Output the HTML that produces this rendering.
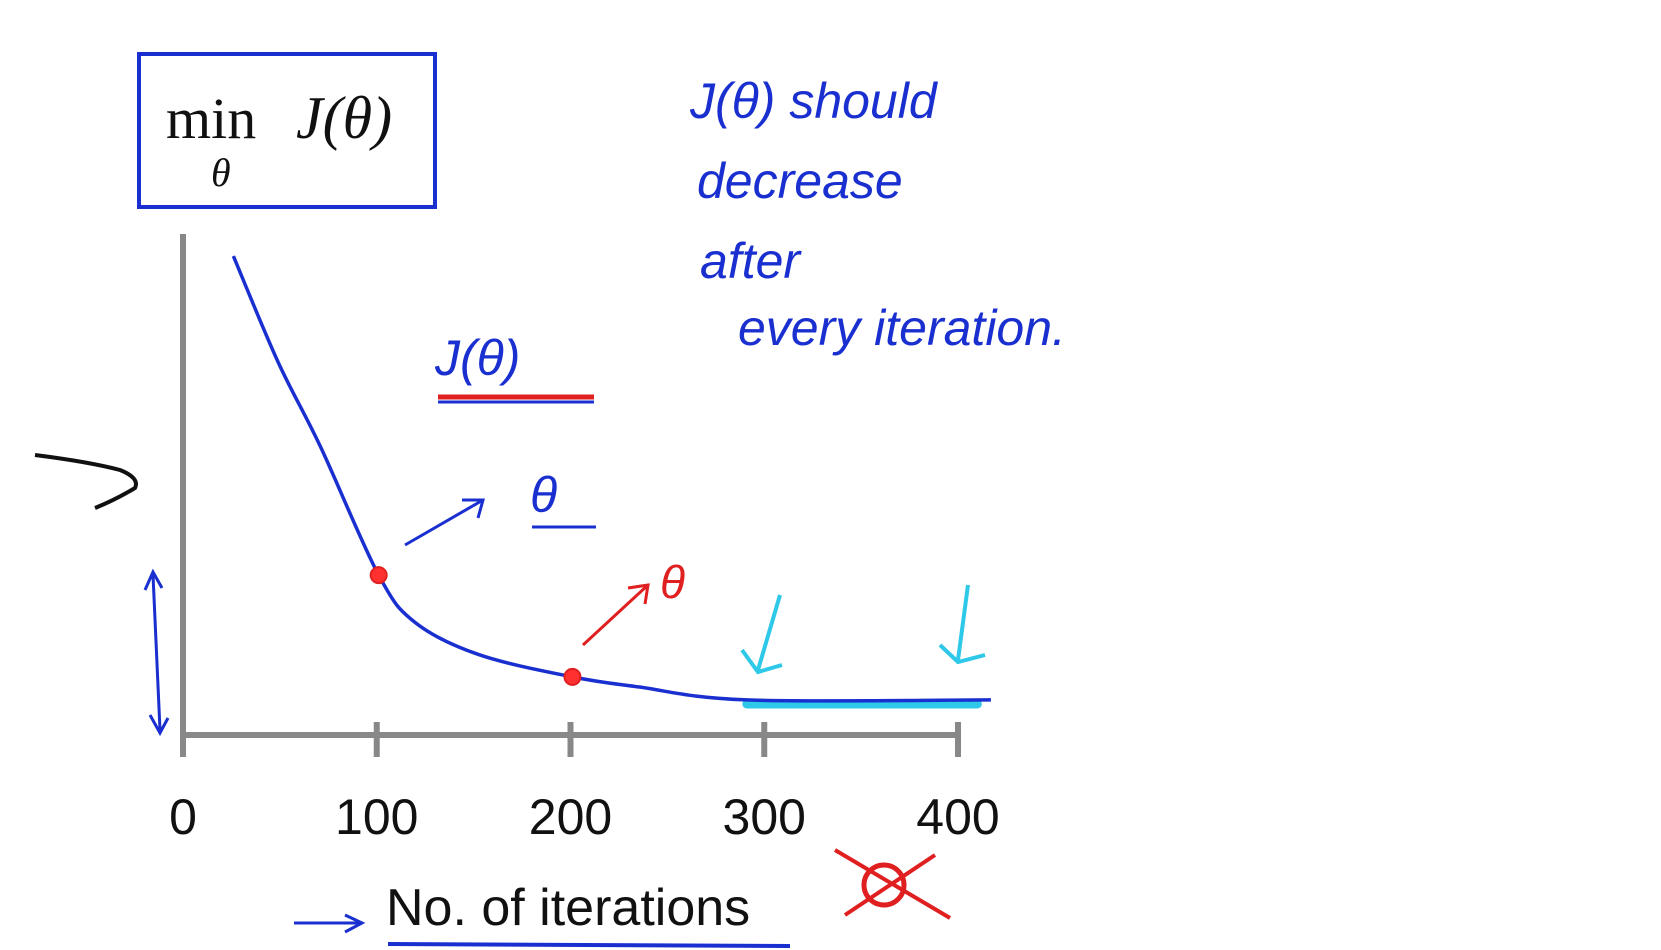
<!DOCTYPE html>
<html><head><meta charset="utf-8"><style>
html,body{margin:0;padding:0;background:#fff;}
svg{display:block;}
.hw{font-family:"Liberation Sans Narrow","Liberation Sans",sans-serif;font-style:italic;fill:#1a2fd0;font-size:50px;font-weight:normal;}
</style></head><body>
<svg id="chart" width="1661" height="950" viewBox="0 0 1661 950">
<g>
<rect x="139" y="54" width="296" height="153" fill="none" stroke="#1a2fd0" stroke-width="4"/>
<text x="166" y="138" font-family="Liberation Serif,serif" font-size="58" fill="#111">min</text>
<text x="296" y="138" font-family="Liberation Serif,serif" font-style="italic" font-size="60" fill="#111">J(θ)</text>
<text x="211" y="186" font-family="Liberation Serif,serif" font-style="italic" font-size="40" fill="#111">θ</text>
</g>
<g>
<text class="hw" x="690" y="118">J(θ) should</text>
<text class="hw" x="697" y="198">decrease</text>
<text class="hw" x="700" y="278">after</text>
<text class="hw" x="738" y="345">every  iteration.</text>
</g>
<g>
<text class="hw" x="435" y="375">J(θ)</text>
<line x1="438" y1="397" x2="594" y2="397" stroke="#e02020" stroke-width="5"/>
<line x1="438" y1="402" x2="594" y2="402" stroke="#1a2fd0" stroke-width="3"/>
<text class="hw" x="530" y="512">θ</text>
<line x1="532" y1="527" x2="596" y2="527" stroke="#1a2fd0" stroke-width="3"/>
<path d="M405,545 L483,500 M462,500 L483,500 L478,518" fill="none" stroke="#1a2fd0" stroke-width="3"/>
<text x="660" y="598" font-family="Liberation Sans,sans-serif" font-style="italic" font-size="46" fill="#e02020">θ</text>
<path d="M583,645 L648,585 M628,588 L648,585 L645,604" fill="none" stroke="#e02020" stroke-width="3"/>
<path d="M35,455 Q90,462 120,470 Q140,478 135,488 Q115,500 95,508" fill="none" stroke="#111" stroke-width="4"/>
<path d="M153,575 L160,730 M145,590 L153,572 L162,588 M150,715 L160,733 L168,718" fill="none" stroke="#1a2fd0" stroke-width="3"/>
<path d="M780,595 L758,670 M742,650 L758,672 L782,665" fill="none" stroke="#2ec8e8" stroke-width="4"/>
<path d="M968,585 L958,660 M940,645 L958,662 L985,655" fill="none" stroke="#2ec8e8" stroke-width="4"/>
<path d="M294,923 L360,923 M345,915 L362,923 L345,932" fill="none" stroke="#1a2fd0" stroke-width="3"/>
<line x1="388" y1="944" x2="790" y2="946" stroke="#1a2fd0" stroke-width="4"/>
<circle cx="884" cy="885" r="20" fill="none" stroke="#e02020" stroke-width="5"/>
<path d="M835,850 L950,918 M935,855 L845,915" fill="none" stroke="#e02020" stroke-width="4"/>
</g>
<g id="plot"></g>
<text x="386" y="925" font-family="Liberation Sans Narrow,Liberation Sans,sans-serif" font-size="52" fill="#111">No. of iterations</text>
</svg>
<script>
const tickValues=[0,100,200,300,400];
const tickLabels=["0","100","200","300","400"];
const iterations=[26,49,71,101,120,153,201,235,291,417];
const costValues=[95.6,74.5,57.5,31.9,22.4,16,11.6,9.6,7,7];
const markedIterations=[101,201];
const markedCosts=[31.9,11.6];
const flatRange=[291,410];
const flatCost=[6.2,6.2];

const X=v=>183+v*775/400;
const Y=v=>735-v*5.01;
const NS="http://www.w3.org/2000/svg";
const plot=document.getElementById('plot');
function mk(tag,attrs){const e=document.createElementNS(NS,tag);for(const k in attrs)e.setAttribute(k,attrs[k]);plot.appendChild(e);return e;}

const ya=mk('line',{x1:183,y1:234,x2:183,y2:737,stroke:'#888',"stroke-width":6});


const xa=mk('line',{x1:180,y1:735,x2:X(400)+2,y2:735,stroke:'#888',"stroke-width":6});


tickValues.forEach((v,i)=>{
  const t=mk('line',{x1:X(v),y1:722,x2:X(v),y2:757,stroke:'#888',"stroke-width":6});
  
  
  const l=mk('text',{x:X(v),y:834,"text-anchor":"middle","font-family":"Liberation Sans Narrow,Liberation Sans,sans-serif","font-size":50,fill:'#111'});
  l.textContent=tickLabels[i];
  
  
});
const hl=mk('line',{x1:X(flatRange[0]),y1:Y(flatCost[0]),x2:X(flatRange[1]),y2:Y(flatCost[1]),stroke:'#2ec8e8',"stroke-width":9,"stroke-linecap":"round"});


const pts=iterations.map((v,i)=>[X(v),Y(costValues[i])]);
let d='M'+pts[0][0]+','+pts[0][1];
for(let i=0;i<pts.length-1;i++){
  const p0=pts[Math.max(0,i-1)],p1=pts[i],p2=pts[i+1],p3=pts[Math.min(pts.length-1,i+2)];
  const c1=[p1[0]+(p2[0]-p0[0])/6,p1[1]+(p2[1]-p0[1])/6];
  const c2=[p2[0]-(p3[0]-p1[0])/6,p2[1]-(p3[1]-p1[1])/6];
  d+='C'+c1[0]+','+c1[1]+' '+c2[0]+','+c2[1]+' '+p2[0]+','+p2[1];
}
const cur=mk('path',{d:d,fill:'none',stroke:'#1a2fd0',"stroke-width":3.5,"stroke-linejoin":"round"});


markedIterations.forEach((v,i)=>{
  const c=mk('circle',{cx:X(v),cy:Y(markedCosts[i]),r:8,fill:'#ff3030',stroke:'#e02020',"stroke-width":2});
  
  
});
</script>
</body></html>
